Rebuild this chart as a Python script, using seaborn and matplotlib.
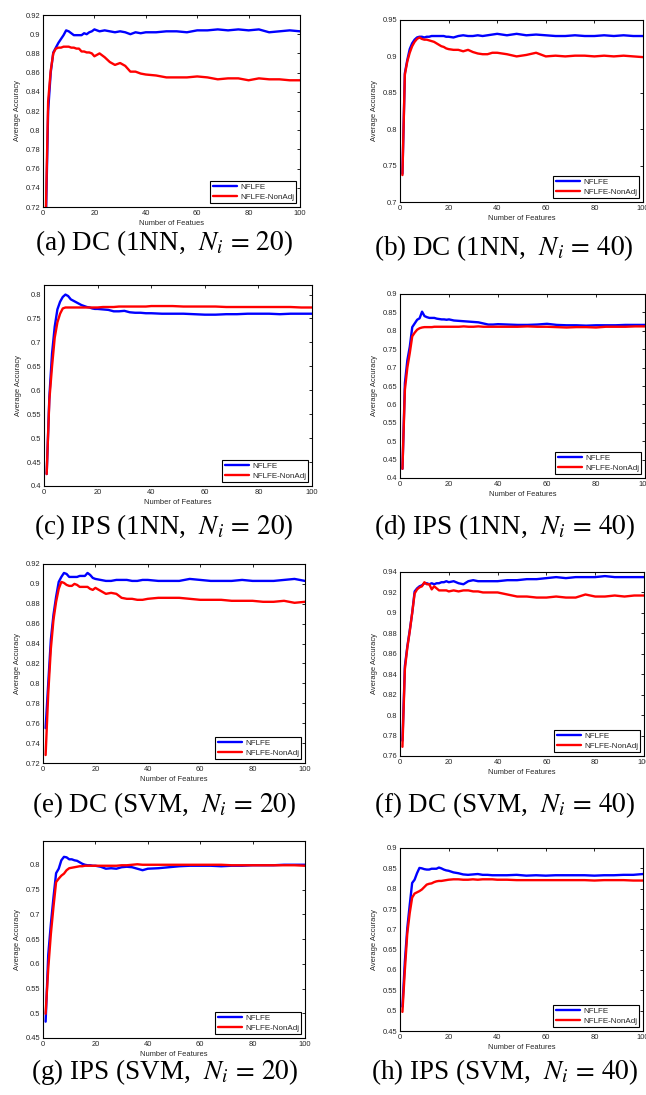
import matplotlib
matplotlib.use("Agg")
import matplotlib.pyplot as plt
import matplotlib.ticker as mticker
import numpy as np
import pandas as pd
import seaborn as sns

# number of features at which the curves are sampled
X = list(range(1, 21)) + list(range(22, 41, 2)) + list(range(44, 101, 4))

A_BLUE = [0.69, 0.82, 0.86, 0.881, 0.886, 0.891, 0.895, 0.899, 0.904, 0.903,
          0.901, 0.899, 0.899, 0.899, 0.899, 0.901, 0.900, 0.902, 0.903, 0.905,
          0.903, 0.904, 0.903, 0.902, 0.903, 0.902, 0.900, 0.902, 0.901, 0.902,
          0.902, 0.903, 0.903, 0.902, 0.904, 0.904, 0.905, 0.904, 0.905, 0.904,
          0.905, 0.902, 0.903, 0.904, 0.903]
A_RED = [0.70, 0.83, 0.862, 0.880, 0.885, 0.886, 0.886, 0.887, 0.887, 0.887,
         0.886, 0.886, 0.885, 0.885, 0.882, 0.882, 0.881, 0.881, 0.880, 0.877,
         0.880, 0.876, 0.871, 0.868, 0.870, 0.867, 0.861, 0.861, 0.859, 0.858,
         0.857, 0.855, 0.855, 0.855, 0.856, 0.855, 0.853, 0.854, 0.854, 0.852,
         0.854, 0.853, 0.853, 0.852, 0.852]

B_BLUE = [0.739, 0.877, 0.895, 0.910, 0.918, 0.923, 0.926, 0.927, 0.927, 0.926,
          0.927, 0.927, 0.928, 0.928, 0.928, 0.928, 0.928, 0.928, 0.927, 0.927,
          0.926, 0.928, 0.929, 0.928, 0.928, 0.929, 0.928, 0.929, 0.930, 0.931,
          0.929, 0.931, 0.929, 0.930, 0.929, 0.928, 0.928, 0.929, 0.928, 0.928,
          0.929, 0.928, 0.929, 0.928, 0.928]
B_RED = [0.737, 0.875, 0.893, 0.905, 0.914, 0.920, 0.924, 0.926, 0.924, 0.923,
         0.923, 0.922, 0.921, 0.920, 0.918, 0.916, 0.914, 0.913, 0.911, 0.910,
         0.909, 0.909, 0.907, 0.909, 0.906, 0.904, 0.903, 0.903, 0.905, 0.905,
         0.903, 0.900, 0.902, 0.905, 0.900, 0.901, 0.900, 0.901, 0.901, 0.900,
         0.901, 0.900, 0.901, 0.900, 0.899]

C_BLUE = [0.425, 0.586, 0.677, 0.733, 0.769, 0.785, 0.795, 0.800, 0.797, 0.790,
          0.787, 0.784, 0.781, 0.778, 0.776, 0.774, 0.773, 0.771, 0.770, 0.770,
          0.769, 0.768, 0.765, 0.765, 0.766, 0.763, 0.762, 0.762, 0.761, 0.761,
          0.760, 0.760, 0.760, 0.759, 0.758, 0.758, 0.759, 0.759, 0.760, 0.760,
          0.760, 0.759, 0.760, 0.760, 0.760]
C_RED = [0.425, 0.58, 0.65, 0.71, 0.742, 0.760, 0.771, 0.773, 0.773, 0.773,
         0.773, 0.773, 0.773, 0.773, 0.773, 0.773, 0.773, 0.773, 0.773, 0.773,
         0.774, 0.774, 0.774, 0.775, 0.775, 0.775, 0.775, 0.775, 0.775, 0.776,
         0.776, 0.776, 0.775, 0.775, 0.775, 0.775, 0.774, 0.774, 0.774, 0.774,
         0.774, 0.774, 0.774, 0.773, 0.773]

D_BLUE = [0.425, 0.658, 0.72, 0.757, 0.810, 0.820, 0.830, 0.834, 0.852, 0.840,
          0.837, 0.835, 0.835, 0.835, 0.833, 0.832, 0.831, 0.831, 0.830, 0.831,
          0.828, 0.827, 0.826, 0.825, 0.824, 0.823, 0.820, 0.817, 0.817, 0.818,
          0.817, 0.816, 0.816, 0.817, 0.819, 0.816, 0.815, 0.815, 0.814, 0.815,
          0.815, 0.815, 0.816, 0.816, 0.816]
D_RED = [0.425, 0.64, 0.70, 0.74, 0.785, 0.795, 0.803, 0.807, 0.809, 0.810,
         0.810, 0.810, 0.810, 0.811, 0.811, 0.811, 0.811, 0.811, 0.811, 0.811,
         0.811, 0.811, 0.812, 0.811, 0.811, 0.812, 0.811, 0.811, 0.811, 0.811,
         0.811, 0.811, 0.812, 0.811, 0.811, 0.810, 0.809, 0.810, 0.810, 0.809,
         0.811, 0.811, 0.811, 0.812, 0.812]

E_BLUE = [0.755, 0.80, 0.844, 0.869, 0.887, 0.902, 0.907, 0.911, 0.910, 0.907,
          0.907, 0.907, 0.907, 0.908, 0.908, 0.908, 0.911, 0.909, 0.906, 0.905,
          0.904, 0.903, 0.903, 0.904, 0.904, 0.904, 0.903, 0.903, 0.904, 0.904,
          0.903, 0.903, 0.903, 0.905, 0.904, 0.903, 0.903, 0.903, 0.904, 0.903,
          0.903, 0.903, 0.904, 0.905, 0.903]
E_RED = [0.728, 0.79, 0.835, 0.864, 0.882, 0.895, 0.902, 0.901, 0.899, 0.898,
         0.898, 0.900, 0.899, 0.897, 0.897, 0.897, 0.897, 0.895, 0.894, 0.896,
         0.893, 0.890, 0.891, 0.890, 0.886, 0.885, 0.885, 0.884, 0.884, 0.885,
         0.886, 0.886, 0.886, 0.885, 0.884, 0.884, 0.884, 0.883, 0.883, 0.883,
         0.882, 0.882, 0.883, 0.881, 0.882]

F_BLUE = [0.775, 0.848, 0.867, 0.883, 0.900, 0.921, 0.924, 0.926, 0.927, 0.929,
          0.929, 0.928, 0.929, 0.928, 0.929, 0.929, 0.930, 0.930, 0.931, 0.930,
          0.931, 0.929, 0.928, 0.931, 0.932, 0.931, 0.931, 0.931, 0.931, 0.931,
          0.932, 0.932, 0.933, 0.933, 0.934, 0.935, 0.934, 0.935, 0.935, 0.935,
          0.936, 0.935, 0.935, 0.935, 0.935]
F_RED = [0.769, 0.845, 0.866, 0.882, 0.900, 0.919, 0.923, 0.925, 0.926, 0.930,
         0.928, 0.928, 0.923, 0.926, 0.924, 0.922, 0.922, 0.922, 0.922, 0.921,
         0.922, 0.921, 0.922, 0.922, 0.921, 0.921, 0.920, 0.920, 0.920, 0.920,
         0.918, 0.916, 0.916, 0.915, 0.915, 0.916, 0.915, 0.915, 0.918, 0.916,
         0.916, 0.917, 0.916, 0.917, 0.917]

G_BLUE = [0.483, 0.618, 0.68, 0.734, 0.783, 0.792, 0.809, 0.816, 0.815, 0.811,
          0.811, 0.809, 0.808, 0.805, 0.802, 0.800, 0.799, 0.799, 0.798, 0.798,
          0.796, 0.792, 0.793, 0.792, 0.795, 0.796, 0.795, 0.792, 0.789, 0.792,
          0.793, 0.795, 0.797, 0.798, 0.798, 0.798, 0.797, 0.798, 0.798, 0.799,
          0.799, 0.799, 0.800, 0.800, 0.800]
G_RED = [0.499, 0.59, 0.66, 0.715, 0.765, 0.772, 0.778, 0.782, 0.789, 0.793,
         0.794, 0.795, 0.796, 0.797, 0.797, 0.798, 0.798, 0.798, 0.798, 0.798,
         0.798, 0.798, 0.798, 0.798, 0.799, 0.799, 0.800, 0.801, 0.800, 0.800,
         0.800, 0.800, 0.800, 0.800, 0.800, 0.800, 0.800, 0.799, 0.799, 0.799,
         0.799, 0.799, 0.799, 0.799, 0.798]

H_BLUE = [0.51, 0.621, 0.703, 0.76, 0.814, 0.822, 0.838, 0.851, 0.850, 0.848,
          0.847, 0.847, 0.849, 0.849, 0.849, 0.852, 0.850, 0.847, 0.845, 0.844,
          0.840, 0.838, 0.835, 0.834, 0.835, 0.836, 0.834, 0.834, 0.833, 0.833,
          0.833, 0.834, 0.832, 0.833, 0.832, 0.833, 0.833, 0.833, 0.833, 0.832,
          0.833, 0.833, 0.834, 0.834, 0.836]
H_RED = [0.497, 0.60, 0.69, 0.74, 0.778, 0.788, 0.791, 0.794, 0.798, 0.804,
         0.810, 0.812, 0.813, 0.816, 0.818, 0.819, 0.819, 0.820, 0.821, 0.822,
         0.823, 0.823, 0.822, 0.822, 0.823, 0.822, 0.823, 0.823, 0.823, 0.822,
         0.822, 0.821, 0.821, 0.821, 0.821, 0.821, 0.821, 0.821, 0.821, 0.820,
         0.821, 0.821, 0.821, 0.820, 0.820]

CAPTIONS = [
    r"(a) DC (1NN,  $N_i\,=\,20$)", r"(b) DC (1NN,  $N_i\,=\,40$)",
    r"(c) IPS (1NN,  $N_i\,=\,20$)", r"(d) IPS (1NN,  $N_i\,=\,40$)",
    r"(e) DC (SVM,  $N_i\,=\,20$)", r"(f) DC (SVM,  $N_i\,=\,40$)",
    r"(g) IPS (SVM,  $N_i\,=\,20$)", r"(h) IPS (SVM,  $N_i\,=\,40$)",
]
XLABELS = ["Number of Featues"] + ["Number of Features"] * 7
LEGEND = ["NFLFE", "NFLFE-NonAdj"]

# (ylim, ytick start, ytick stop, step)
YAXES = [
    ((0.72, 0.92), 0.72, 0.92, 0.02),
    ((0.70, 0.95), 0.70, 0.95, 0.05),
    ((0.40, 0.82), 0.40, 0.80, 0.05),
    ((0.40, 0.90), 0.40, 0.90, 0.05),
    ((0.72, 0.92), 0.72, 0.92, 0.02),
    ((0.76, 0.94), 0.76, 0.94, 0.02),
    ((0.45, 0.848), 0.45, 0.80, 0.05),
    ((0.45, 0.90), 0.45, 0.90, 0.05),
]

SERIES = [(A_BLUE, A_RED), (B_BLUE, B_RED), (C_BLUE, C_RED), (D_BLUE, D_RED),
          (E_BLUE, E_RED), (F_BLUE, F_RED), (G_BLUE, G_RED), (H_BLUE, H_RED)]

W, H = 646, 1095
# axes boxes in pixels: left, top, right, bottom
BOXES = [
    (43, 15, 300, 207), (400, 20, 643, 202),
    (44, 285, 312, 486), (400, 294, 645, 478),
    (43, 564, 305, 763), (400, 572, 644, 756),
    (43, 841, 305, 1038), (400, 848, 643, 1031),
]
CAP_POS = [(164, 243), (504, 248), (164, 527), (504, 527),
           (164, 805), (504, 805), (164, 1072), (504, 1072)]

sns.set_theme(style="white")
plt.rcParams["font.family"] = ["Liberation Sans", "DejaVu Sans"]
plt.rcParams["mathtext.fontset"] = "stix"

TXT = "#262626"


def fmt(v, _):
    return f"{round(v, 3):g}"


fig = plt.figure(figsize=(W / 100, H / 100), dpi=100)

for i, (box, (blue, red)) in enumerate(zip(BOXES, SERIES)):
    l, t, r, b = box
    ax = fig.add_axes([l / W, 1 - b / H, (r - l) / W, (b - t) / H])
    df = pd.DataFrame({"x": X * 2, "acc": blue + red,
                       "method": [LEGEND[0]] * len(X) + [LEGEND[1]] * len(X)})
    sns.lineplot(data=df, x="x", y="acc", hue="method", hue_order=LEGEND,
                 palette={LEGEND[0]: "#0000FF", LEGEND[1]: "#FF0000"},
                 linewidth=1.7, ax=ax, legend=True)
    ylim, y0, y1, step = YAXES[i]
    ax.set_xlim(0, 100)
    ax.set_ylim(*ylim)
    ax.set_xticks(np.arange(0, 101, 20))
    ax.set_yticks(np.arange(y0, y1 + step / 2, step))
    ax.yaxis.set_major_formatter(mticker.FuncFormatter(fmt))
    ax.tick_params(direction="in", length=2.5, width=0.6, top=True, right=True,
                   labelsize=5.4, colors="black", labelcolor=TXT, pad=2)
    for s in ax.spines.values():
        s.set_visible(True)
        s.set_color("black")
        s.set_linewidth(0.8)
    ax.set_xlabel(XLABELS[i], fontsize=5.4, color=TXT, labelpad=2)
    ax.set_ylabel("Average Accuracy", fontsize=5.4, color=TXT, labelpad=3)
    leg = ax.legend(loc="lower right", fontsize=5.8, frameon=True, fancybox=False,
                    edgecolor="black", framealpha=1, handlelength=3.0,
                    borderaxespad=0.45, borderpad=0.3, labelspacing=0.25,
                    handletextpad=0.4)
    leg.get_frame().set_linewidth(0.8)
    for ln in leg.get_lines():
        ln.set_linewidth(1.7)

    cx, cy = CAP_POS[i]
    fig.text(cx / W, 1 - cy / H, CAPTIONS[i], ha="center", va="center",
             fontsize=19.5, family=["Liberation Serif", "DejaVu Serif"], color="black")

fig.savefig("out.png", dpi=100, facecolor="white")
